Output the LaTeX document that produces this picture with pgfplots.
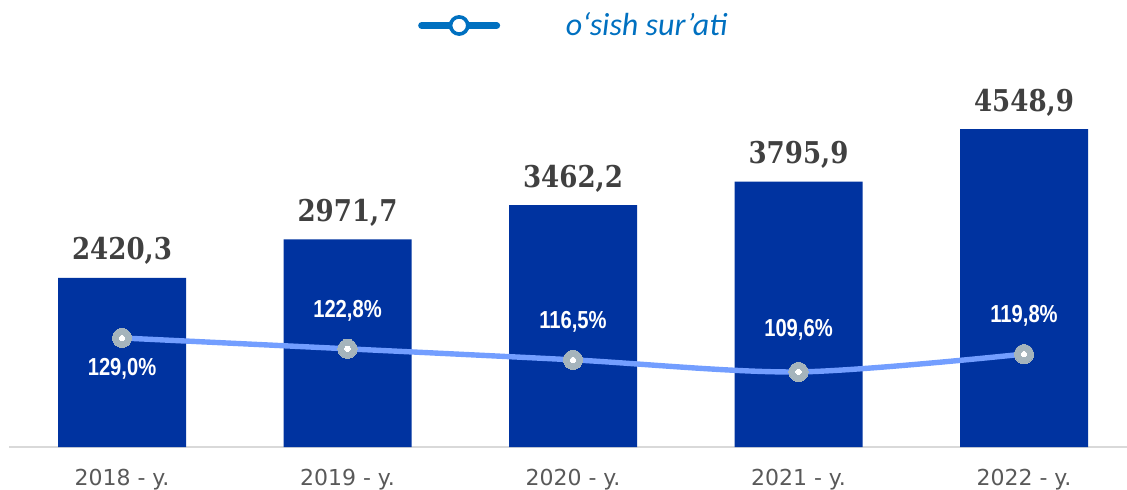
\documentclass[border=0pt]{standalone}
\usepackage{pgfplots}
\pgfplotsset{compat=1.18}
\usepackage{fontspec}
\setmainfont{DejaVu Sans}
\newfontfamily\barfont[FakeStretch=0.87]{DejaVu Serif}
\newfontfamily\pctfont[FakeStretch=0.82]{Liberation Sans}
\newfontfamily\legfont{Carlito}
\definecolor{barblue}{HTML}{0033A0}
\definecolor{lineblue}{HTML}{739EFF}
\definecolor{legblue}{HTML}{0070C0}
\definecolor{markgray}{HTML}{A5B4BC}
\definecolor{axgray}{HTML}{D9D9D9}
\definecolor{lblgray}{HTML}{595959}
\definecolor{valgray}{HTML}{404040}
\pgfplotstableread{
x val
0 2420.3
1 2971.7
2 3462.2
3 3795.9
4 4548.9
}\bars
\pgfplotstableread{
x pct
0 129.0
1 122.8
2 116.5
3 109.6
4 119.8
}\growth
\pgfplotsset{
  pctlabel/.style={only marks, markgray, mark=*, mark size=4.8pt, mark options={fill=markgray, draw=markgray, line width=0pt}, forget plot,
    point meta=y,
    nodes near coords={\pgfmathprintnumber[fixed, fixed zerofill, precision=1, use comma, assume math mode=true]{\pgfplotspointmeta}\%},
    every node near coord/.append style={font=\pctfont\bfseries\fontsize{12.3}{14}\selectfont, text=white, anchor=center, yshift=#1}},
}
\begin{document}
\begin{tikzpicture}
\begin{axis}[
  scale only axis, width=558.9pt, height=223.5pt,
  xmin=-0.5, xmax=4.457, ymin=0, ymax=6395,
  axis y line=none, axis x line=bottom,
  x axis line style={-, draw=axgray, line width=1pt},
  xtick={0,1,2,3,4},
  xticklabels={2018 - y., 2019 - y., 2020 - y., 2021 - y., 2022 - y.},
  major tick length=0pt,
  xticklabel style={font=\fontsize{11}{13}\selectfont, text=lblgray, anchor=base, yshift=-19pt},
  ybar, bar width=64pt,
  nodes near coords={\pgfmathprintnumber[fixed, fixed zerofill, precision=1, use comma, 1000 sep={}, assume math mode=true]{\pgfplotspointmeta}},
  nodes near coords style={font=\barfont\bfseries\fontsize{15}{18}\selectfont, text=valgray, anchor=base, yshift=9pt},
  clip=false,
]
\addplot[fill=barblue, draw=none] table[x=x, y=val] {\bars};
\end{axis}
\begin{axis}[
  scale only axis, width=558.9pt, height=223.5pt,
  xmin=-0.5, xmax=4.457, ymin=66.7, ymax=322.1,
  hide axis, clip=false,
  legend style={at={(0.504,0.943)}, anchor=center, draw=none, fill=none,
    font=\legfont\itshape\fontsize{16}{19}\selectfont, text=legblue,
    nodes={inner sep=0pt}},
  legend image code/.code={
    \draw[line width=3.5pt, line cap=round, legblue] (1.75pt,0pt) -- (39.25pt,0pt);
    \draw[line width=1.8pt, legblue, fill=white] (20.5pt,0pt) circle (4.3pt);
    \path (72.5pt,0pt);
  },
]
\addplot[smooth, tension=0.5, line width=2.7pt, lineblue] table[x=x, y=pct] {\growth};
\addlegendentry{o‘sish sur’ati}
\addplot[pctlabel=-15.4pt] coordinates {(0,129.0)};
\addplot[pctlabel=19.2pt] coordinates {(1,122.8) (2,116.5) (4,119.8)};
\addplot[pctlabel=21.3pt] coordinates {(3,109.6)};
\addplot[only marks, white, mark=*, mark size=1.3pt, mark options={fill=white, draw=white, line width=0pt}, forget plot] table[x=x, y=pct] {\growth};
\end{axis}
\pgfresetboundingbox
\path[use as bounding box] (-4.625pt,-21pt) rectangle (558.875pt,223.5pt);
\end{tikzpicture}
\end{document}
